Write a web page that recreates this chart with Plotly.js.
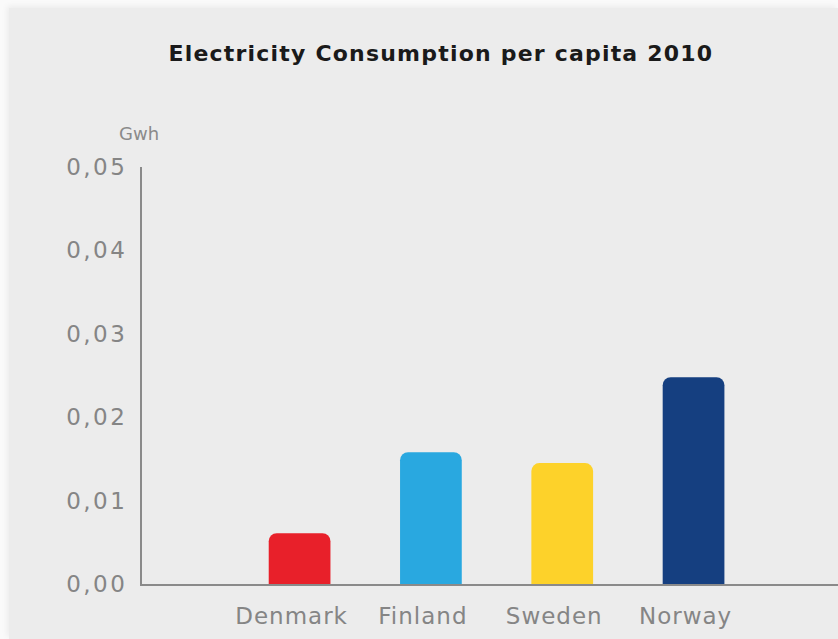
<!DOCTYPE html>
<html>
<head>
<meta charset="utf-8">
<script src="https://cdn.plot.ly/plotly-3.0.1.min.js"></script>
<style>
  html, body { margin: 0; padding: 0; background: #fafafa; width: 838px; height: 639px; overflow: hidden; }
  #chart { position: absolute; left: 9px; top: 8px; width: 829px; height: 631px; box-shadow: -2px -2px 6px rgba(0,0,0,0.06); }
  #chart .xtick text { letter-spacing: 1px; }
  #chart .ytick text { letter-spacing: 2.5px; }
  #chart .gtitle { letter-spacing: 1.2px; }
</style>
</head>
<body>
<div id="chart"></div>
<script>
const countries = ["Denmark", "Finland", "Sweden", "Norway"];
const consumption = [0.0061, 0.0158, 0.0145, 0.0248];
const barColors = ["#e8202a", "#29a8e0", "#fdd22a", "#153f80"];
const yTickVals = [0, 0.01, 0.02, 0.03, 0.04, 0.05];
const yTickText = ["0,00", "0,01", "0,02", "0,03", "0,04", "0,05"];
const chartTitle = "Electricity Consumption per capita 2010";
const unitLabel = "Gwh";

const trace = {
  type: "bar",
  x: countries,
  y: consumption,
  width: 0.47,
  marker: { color: barColors, cornerradius: 8, line: { width: 0 } },
  hoverinfo: "x+y"
};

const layout = {
  width: 829,
  height: 631,
  margin: { l: 133, r: 0, t: 159, b: 55 },
  paper_bgcolor: "#ececec",
  plot_bgcolor: "#ececec",
  showlegend: false,
  title: {
    text: chartTitle,
    font: { family: "DejaVu Sans", size: 22, color: "#1a1a1a", weight: "bold" },
    xref: "container", x: 0.521, xanchor: "center",
    yref: "container", y: 0.9287, yanchor: "middle"
  },
  xaxis: {
    type: "category",
    range: [-1.2, 4.1],
    showgrid: false,
    zeroline: false,
    showline: true,
    linecolor: "#8a8a8a",
    linewidth: 2,
    ticks: "",
    ticklabelstandoff: 10,
    ticklabelshift: -8,
    tickfont: { family: "DejaVu Sans", size: 23, color: "#858585" },
    fixedrange: true
  },
  yaxis: {
    range: [0, 0.05],
    tickvals: yTickVals,
    ticktext: yTickText,
    showgrid: false,
    zeroline: false,
    showline: true,
    linecolor: "#8a8a8a",
    linewidth: 2,
    ticks: "",
    ticklabelstandoff: 8,
    tickfont: { family: "DejaVu Sans", size: 23, color: "#858585" },
    fixedrange: true
  },
  annotations: [{
    text: unitLabel,
    xref: "paper", yref: "paper",
    x: 0, y: 1,
    xanchor: "center", yanchor: "middle",
    xshift: -3, yshift: 34,
    showarrow: false,
    font: { family: "DejaVu Sans", size: 18, color: "#8a8a8a" }
  }]
};

Plotly.newPlot("chart", [trace], layout, { displayModeBar: false, staticPlot: true });
</script>
</body>
</html>
